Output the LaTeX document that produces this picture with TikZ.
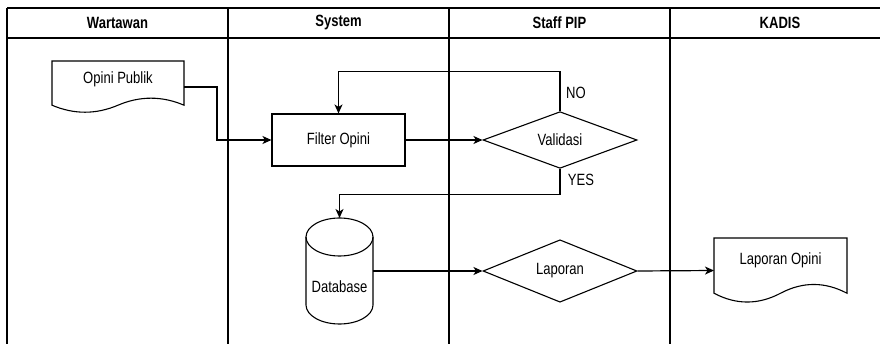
\documentclass[tikz,border=0pt]{standalone}
\usepackage{fontspec}
\setmainfont{Liberation Sans}[FakeStretch=0.8, BoldFeatures={FakeStretch=0.8}]
\usetikzlibrary{shapes.geometric,arrows.meta}
\tikzset{
  lane/.style={line width=1.3pt, draw=black},
  shapeline/.style={line width=1.1pt, draw=black},
  box/.style={draw=none, inner sep=0pt, outer sep=0pt},
  txt/.style={inner sep=0pt, font=\fontsize{16.3}{18}\selectfont},
  head/.style={inner sep=0pt, font=\fontsize{16.3}{18}\selectfont\bfseries},
  proc/.style={shapeline, rectangle, minimum width=133pt, minimum height=52pt, inner sep=0pt, font=\fontsize{16.3}{18}\selectfont},
  dec/.style={shapeline, diamond, minimum width=154pt, minimum height=53pt, inner sep=0pt, font=\fontsize{16.3}{18}\selectfont},
  conn/.style={line width=1.2pt, -{Stealth[length=9pt,width=8pt,inset=2.5pt]}},
  plain/.style={line width=1.2pt}
}
\newcommand\docshape[6]{%
  \draw[shapeline] (#2,#3) -- (#2+#4,#3) -- (#2+#4,#3+0.85*#5)
    .. controls (#2+5*#4/6,#3+0.67*#5) and (#2+2*#4/3,#3+0.67*#5) .. (#2+#4/2,#3+0.85*#5)
    .. controls (#2+#4/3,#3+1.03*#5) and (#2+#4/6,#3+1.03*#5) .. (#2,#3+0.85*#5) -- cycle;
  \node[box, minimum width=#4, minimum height=#5] (#1) at (#2+#4/2,#3+#5/2) {};
  \node[txt] (#1-t) at (#2+#4/2,#3+0.35*#5) {#6};
}
\begin{document}
\begin{tikzpicture}[x=1pt, y=-1pt]
\useasboundingbox (0,0) rectangle (880,344);
% swimlanes
\draw[lane] (7,8) -- (880,8);
\draw[lane] (7,38) -- (880,38);
\draw[lane] (7,8) -- (7,344);
\draw[lane] (228,8) -- (228,344);
\draw[lane] (449,8) -- (449,344);
\draw[lane] (670,8) -- (670,344);
\node[head] (h1) at (117.5,23) {Wartawan};
\node[head] (h2) at (338.5,23) {System};
\node[head] (h3) at (559.5,23) {Staff PIP};
\node[head] (h4) at (780,23) {KADIS};
% documents
\docshape{op}{52}{61}{132}{52}{Opini Publik}
\docshape{lo}{714}{238}{133}{65}{Laporan Opini}
% process and decisions
\node[proc] (filter) at (338.5,140) {Filter Opini};
\node[dec] (val) at (560,140) {Validasi};
\node[dec] (lap) at (560,271) {Laporan};
% database cylinder
\node[box, minimum width=67pt, minimum height=106pt] (db) at (339.5,271) {};
\draw[shapeline] (306,237) -- (306,305) arc[start angle=180, end angle=0, x radius=33.5, y radius=19] -- (373,237);
\draw[shapeline] (339.5,237) ellipse [x radius=33.5, y radius=19];
\node[txt] (dbt) at (339.5,287) {Database};
% connectors
\draw[conn] (op.east) -- ++(33,0) |- (filter.west);
\draw[conn] (filter.east) -- (val.west);
\draw[conn] (val.north) -- ++(0,-40) -| (filter.north);
\draw[conn] (val.south) -- ++(0,26) -| (db.north);
\draw[conn] (db.east) -- (lap.west);
\draw[conn] (lap.east) -- (lo.west);
% labels
\node[txt] (no) at (576,93) {NO};
\node[txt] (yes) at (581,180) {YES};
\end{tikzpicture}
\end{document}
